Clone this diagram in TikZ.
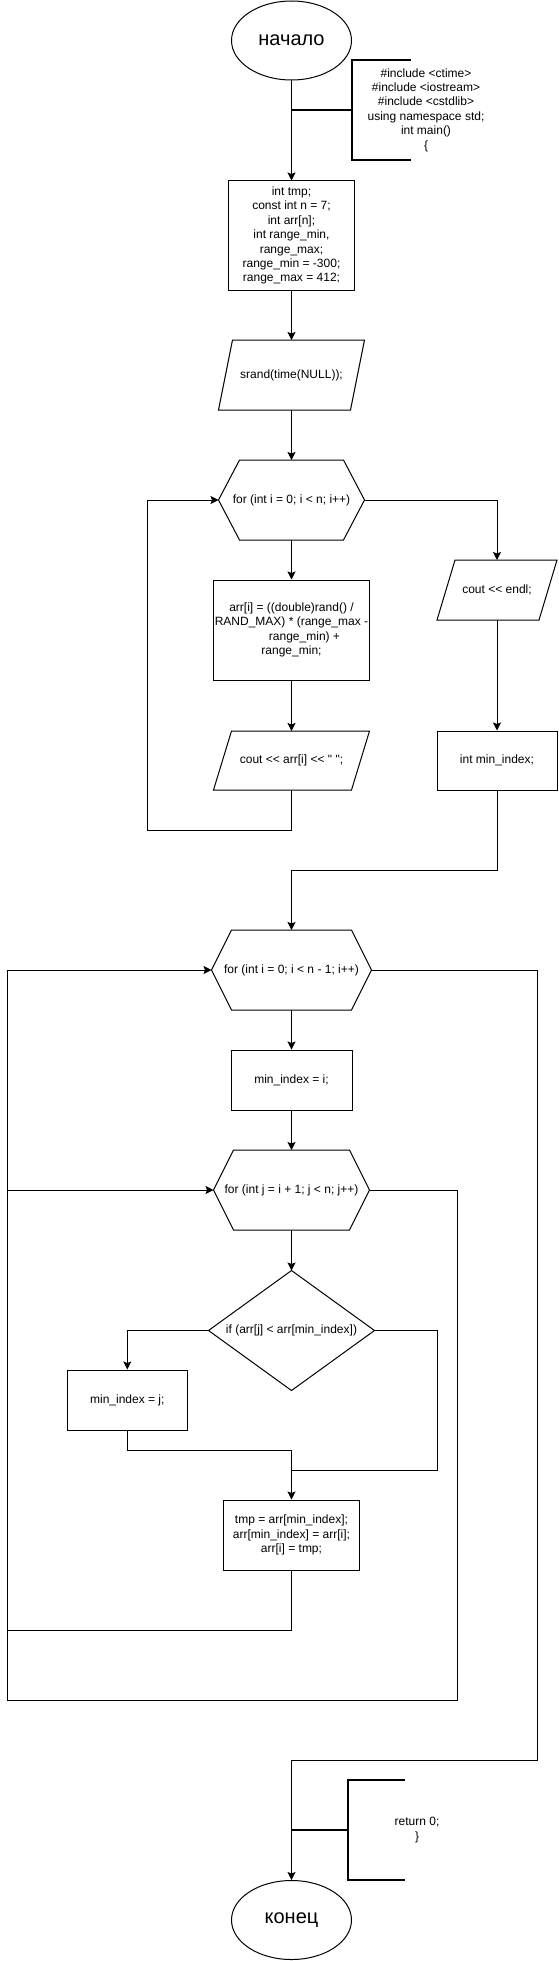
\documentclass[tikz,border=0pt]{standalone}
\usepackage{fontspec}
\setmainfont{Liberation Sans}[Ligatures=TeXOff]
\usetikzlibrary{shapes.geometric,arrows.meta}
\tikzset{
  base/.style={font=\fontsize{12}{14.4}\selectfont, align=center, inner sep=0pt, line width=1pt},
  proc/.style={base, draw, rectangle},
  ghost/.style={base, draw=none, rectangle, outer sep=0pt},
  term/.style={base, draw, ellipse, font=\fontsize{20}{24}\selectfont, minimum width=120pt, minimum height=79pt},
  flow/.style={line width=1pt, -{Stealth[length=8pt,width=8pt,inset=1.5pt]}},
  link/.style={line width=1pt},
  brace/.style={line width=2pt},
}
\newcommand\hexpath[2]{\draw[line width=1pt] (#1.west) -- ([xshift=#2]#1.north west) -- ([xshift=-#2]#1.north east) -- (#1.east) -- ([xshift=-#2]#1.south east) -- ([xshift=#2]#1.south west) -- cycle;}
\newcommand\parpath[2]{\draw[line width=1pt] ([xshift=#2]#1.north west) -- (#1.north east) -- ([xshift=-#2]#1.south east) -- (#1.south west) -- cycle;}
\newcommand\diapath[1]{\draw[line width=1pt] (#1.north) -- (#1.east) -- (#1.south) -- (#1.west) -- cycle;}
\newcommand\bracketpath[2]{\draw[brace] ([xshift=#2]#1.north west) -- (#1.north west) -- (#1.south west) -- ([xshift=#2]#1.south west);}
\begin{document}
\begin{tikzpicture}[x=1pt,y=-1pt]
\useasboundingbox (0,0) rectangle (558,1961);

% nodes
\node[term] (start) at (291.5,40.5) {\raisebox{-1pt}{начало}};
\node[ghost, minimum width=148pt, minimum height=100pt] (cmt1) at (426,110)
  {\#include <ctime>\\\#include <iostream>\\\#include <cstdlib>\\using namespace std;\\int main()\\\{};
\node[proc, minimum width=126pt, minimum height=109pt] (decl) at (291.5,235.5)
  {int tmp;\\const int n = 7;\\int arr[n];\\int range\_min,\\range\_max;\\range\_min = -300;\\range\_max = 412;};
\node[ghost, minimum width=146pt, minimum height=70pt] (srand) at (291.5,375) {srand(time(NULL));};
\parpath{srand}{14pt}
\node[ghost, minimum width=146pt, minimum height=80pt] (for1) at (291.5,500) {for (int i = 0; i < n; i++)};
\hexpath{for1}{21pt}
\node[proc, minimum width=156pt, minimum height=100pt] (calc) at (291.5,630)
  {arr[i] = ((double)rand() /\\RAND\_MAX) * (range\_max -\\\hspace*{26pt}range\_min) +\\range\_min;};
\node[ghost, minimum width=156pt, minimum height=59pt] (out1) at (291.5,760.5) {cout << arr[i] << " ";};
\parpath{out1}{18pt}
\node[ghost, minimum width=120pt, minimum height=60pt] (endl) at (497,590) {cout << endl;};
\parpath{endl}{18pt}
\node[proc, minimum width=120pt, minimum height=59pt] (decl2) at (497,760.5) {int min\_index;};
\node[ghost, minimum width=160pt, minimum height=80pt] (for2) at (291.5,970) {for (int i = 0; i < n - 1; i++)};
\hexpath{for2}{20pt}
\node[proc, minimum width=121pt, minimum height=60pt] (set1) at (291.5,1080) {min\_index = i;};
\node[ghost, minimum width=156pt, minimum height=80pt] (for3) at (291.5,1190) {for (int j = i + 1; j < n; j++)};
\hexpath{for3}{20pt}
\node[ghost, minimum width=166pt, minimum height=120pt] (cond) at (291.5,1330.5) {if (arr[j] < arr[min\_index])};
\diapath{cond}
\node[proc, minimum width=120pt, minimum height=60pt] (set2) at (127.3,1400) {min\_index = j;};
\node[proc, minimum width=136pt, minimum height=70pt] (swap) at (291.5,1535)
  {tmp = arr[min\_index];\\arr[min\_index] = arr[i];\\arr[i] = tmp;};
\node[ghost, minimum width=138pt, minimum height=100pt] (cmt2) at (417,1830) {return 0;\\\}};
\node[term] (stop) at (291.5,1920) {конец};

% comment brackets
\bracketpath{cmt1}{59pt}
\bracketpath{cmt2}{57pt}

% bend coordinates
\coordinate (c1) at (291.5,110);
\coordinate (c2) at (291.5,1830);
\coordinate (L1) at (147,830);
\coordinate (J1) at (291.5,870);
\coordinate (J2) at (291.5,1450);
\coordinate (R2) at (437,1470);
\coordinate (J3) at (291.5,1470);
\coordinate (L2) at (7,1630);
\coordinate (R3) at (457,1700);
\coordinate (L3) at (7,1700);
\coordinate (R4) at (537,1760);
\coordinate (J4) at (291.5,1760);

% connectors
\draw[flow] (start.south) -- (decl.north);
\draw[brace] (c1) -- (cmt1.west);
\draw[flow] (decl.south) -- (srand.north);
\draw[flow] (srand.south) -- (for1.north);
\draw[flow] (for1.south) -- (calc.north);
\draw[flow] (calc.south) -- (out1.north);
\draw[flow] (out1.south) |- (L1) |- (for1.west);
\draw[flow] (for1.east) -| (endl.north);
\draw[flow] (endl.south) -- (decl2.north);
\draw[flow] (decl2.south) |- (J1) -- (for2.north);
\draw[flow] (for2.south) -- (set1.north);
\draw[flow] (set1.south) -- (for3.north);
\draw[flow] (for3.south) -- (cond.north);
\draw[flow] (cond.west) -| (set2.north);
\draw[flow] (set2.south) |- (J2) -- (swap.north);
\draw[link] (cond.east) -| (R2) -- (J3);
\draw[flow] (swap.south) |- (L2) |- (for3.west);
\draw[flow] (for3.east) -| (R3) -- (L3) |- (for2.west);
\draw[flow] (for2.east) -| (R4) -- (J4) -- (stop.north);
\draw[brace] (c2) -- (cmt2.west);
\end{tikzpicture}
\end{document}
